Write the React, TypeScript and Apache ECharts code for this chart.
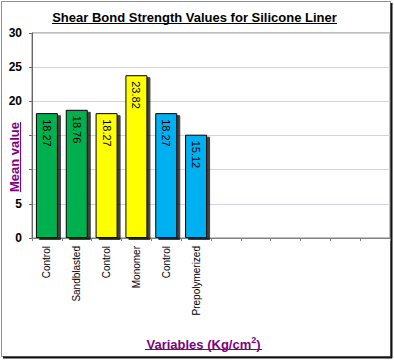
import React, { useEffect, useRef } from "react";
import * as echarts from "echarts";

const categories = [
  "Control",
  "Sandblasted",
  "Control",
  "Monomer",
  "Control",
  "Prepolymerized",
  "",
  "",
  "",
  "",
  "",
  "",
];
const meanValues = [18.27, 18.76, 18.27, 23.82, 18.27, 15.12];
const barColors = ["#00B050", "#00B050", "#FFFF00", "#FFFF00", "#00B0F0", "#00B0F0"];
const yTicks = { min: 0, max: 30, interval: 5 };
// tick labels hidden behind the axis title in the reference
const hiddenYLabels = [10, 15];

const titleText = "Shear Bond Strength Values for Silicone Liner";
const yName = "Mean value";

const FONT = "'Liberation Sans', Arial, sans-serif";
const PURPLE = "#800080";

export default function App() {
  const ref = useRef<HTMLDivElement>(null);

  useEffect(() => {
    if (!ref.current) return;
    const chart = echarts.init(ref.current, null, { renderer: "svg" });
    chart.setOption({
      animation: false,
      backgroundColor: "#ffffff",
      textStyle: { fontFamily: FONT },
      grid: {
        left: 32,
        top: 33,
        right: 4,
        bottom: 122,
        show: true,
        borderColor: "#808080",
        borderWidth: 1,
        backgroundColor: "transparent",
      },
      xAxis: {
        type: "category",
        data: categories,
        boundaryGap: true,
        axisLine: { show: true, lineStyle: { color: "#808080", width: 1 } },
        axisTick: {
          show: true,
          alignWithLabel: false,
          length: 3,
          lineStyle: { color: "#808080" },
        },
        axisLabel: {
          rotate: 90,
          interval: 0,
          margin: 8,
          fontSize: 10,
          color: "#000",
          fontFamily: FONT,
        },
      },
      yAxis: {
        type: "value",
        min: yTicks.min,
        max: yTicks.max,
        interval: yTicks.interval,
        axisLine: { show: true, lineStyle: { color: "#666666", width: 1 } },
        axisTick: { show: true, length: 3, lineStyle: { color: "#666666" } },
        axisLabel: {
          margin: 10,
          fontSize: 12,
          fontWeight: "bold",
          color: "#000",
          fontFamily: FONT,
          formatter: (v: number) => (hiddenYLabels.includes(v) ? "" : String(v)),
        },
        splitLine: { show: true, lineStyle: { color: "#D4D0EC", width: 1 } },
      },
      series: [
        {
          type: "bar",
          barWidth: 22,
          data: meanValues.map((v, i) => ({
            value: v,
            itemStyle: { color: barColors[i] },
          })),
          itemStyle: {
            borderColor: "#000",
            borderWidth: 1,
            shadowColor: "rgba(0,0,0,0.75)",
            shadowBlur: 0,
            shadowOffsetX: 3,
            shadowOffsetY: 2,
          },
          label: {
            show: true,
            position: "insideTop",
            distance: 6,
            rotate: -90,
            align: "left",
            verticalAlign: "middle",
            fontSize: 11,
            color: "#000",
            fontFamily: FONT,
            formatter: (p: any) => Number(p.value).toFixed(2),
          },
        },
      ],
      graphic: [
        // frame
        {
          type: "rect",
          shape: { x: 1.5, y: 1.5, width: 389, height: 355 },
          style: { fill: "none", stroke: "#909090", lineWidth: 1 },
          silent: true,
        },
        {
          type: "line",
          shape: { x1: 391.5, y1: 3, x2: 391.5, y2: 358 },
          style: { stroke: "#111", lineWidth: 2 },
          silent: true,
        },
        {
          type: "line",
          shape: { x1: 3, y1: 357.5, x2: 392, y2: 357.5 },
          style: { stroke: "#111", lineWidth: 2 },
          silent: true,
        },
        // title
        {
          type: "text",
          x: 194.5,
          y: 17,
          style: {
            text: titleText,
            fontSize: 13,
            fontWeight: "bold",
            fontFamily: FONT,
            fill: "#000",
            align: "center",
            verticalAlign: "middle",
          },
        },
        {
          type: "line",
          shape: { x1: 52, y1: 23.5, x2: 337, y2: 23.5 },
          style: { stroke: "#000", lineWidth: 1 },
          silent: true,
        },
        // y axis name
        {
          type: "text",
          x: 14,
          y: 157,
          rotation: Math.PI / 2,
          style: {
            text: yName,
            fontSize: 13,
            fontWeight: "bold",
            fontFamily: FONT,
            fill: PURPLE,
            align: "center",
            verticalAlign: "middle",
          },
        },
        {
          type: "line",
          shape: { x1: 20.5, y1: 122, x2: 20.5, y2: 192 },
          style: { stroke: PURPLE, lineWidth: 1 },
          silent: true,
        },
        // x axis name
        {
          type: "text",
          x: 203.5,
          y: 343,
          style: {
            text: "{a|Variables (Kg/cm}{s|2}{a|)}",
            align: "center",
            verticalAlign: "middle",
            rich: {
              a: {
                fontSize: 13,
                fontWeight: "bold",
                fontFamily: FONT,
                fill: PURPLE,
                lineHeight: 16,
                verticalAlign: "bottom",
              },
              s: {
                fontSize: 9,
                fontWeight: "bold",
                fontFamily: FONT,
                fill: PURPLE,
                lineHeight: 16,
                verticalAlign: "top",
                padding: [0, 0, 6, 0],
              },
            },
          },
        },
        {
          type: "line",
          shape: { x1: 145, y1: 349.5, x2: 262, y2: 349.5 },
          style: { stroke: PURPLE, lineWidth: 1 },
          silent: true,
        },
      ],
    });
    return () => chart.dispose();
  }, []);

  return (
    <div
      ref={ref}
      style={{ position: "fixed", left: 0, top: 0, width: 394, height: 360 }}
    />
  );
}
